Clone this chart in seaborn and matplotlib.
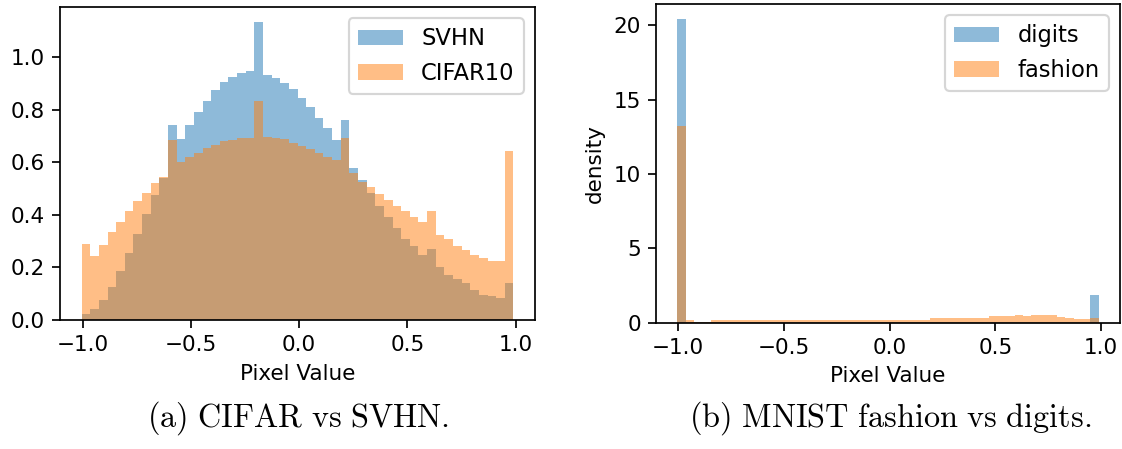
import numpy as np
import pandas as pd
import seaborn as sns
import matplotlib.pyplot as plt

# =============================================================================
# Data (bin densities, 50 bins over the pixel range)
# =============================================================================

n_bins = 50
pixel_range = (-1.005, 0.99)
bin_edges = np.linspace(pixel_range[0], pixel_range[1], n_bins + 1)
bin_centers = (bin_edges[:-1] + bin_edges[1:]) / 2

svhn_density = [
    0.023, 0.040, 0.076, 0.127, 0.188, 0.253, 0.328, 0.402, 0.475, 0.540,
    0.741, 0.687, 0.741, 0.790, 0.834, 0.875, 0.907, 0.925, 0.939, 0.946,
    1.134, 0.932, 0.919, 0.900, 0.877, 0.845, 0.809, 0.767, 0.731, 0.684,
    0.760, 0.580, 0.532, 0.482, 0.433, 0.390, 0.349, 0.307, 0.281, 0.247,
    0.269, 0.203, 0.171, 0.155, 0.139, 0.114, 0.095, 0.091, 0.082, 0.139,
]

cifar_density = [
    0.290, 0.243, 0.285, 0.336, 0.373, 0.414, 0.451, 0.482, 0.520, 0.545,
    0.684, 0.600, 0.620, 0.636, 0.655, 0.667, 0.680, 0.684, 0.692, 0.692,
    0.833, 0.698, 0.692, 0.687, 0.674, 0.663, 0.649, 0.634, 0.619, 0.608,
    0.693, 0.558, 0.526, 0.507, 0.479, 0.456, 0.433, 0.414, 0.390, 0.374,
    0.416, 0.323, 0.307, 0.281, 0.266, 0.247, 0.237, 0.224, 0.224, 0.643,
]

digits_density = [
    20.40, 0.06, 0.06, 0.06, 0.05, 0.05, 0.05, 0.05, 0.05, 0.05,
    0.05, 0.05, 0.05, 0.05, 0.05, 0.05, 0.05, 0.05, 0.05, 0.05,
    0.05, 0.05, 0.05, 0.05, 0.05, 0.05, 0.05, 0.05, 0.05, 0.05,
    0.05, 0.05, 0.05, 0.05, 0.05, 0.05, 0.05, 0.05, 0.05, 0.05,
    0.05, 0.05, 0.05, 0.05, 0.05, 0.05, 0.05, 0.06, 0.06, 1.88,
]

fashion_density = [
    13.24, 0.20, 0.03, 0.03, 0.18, 0.18, 0.18, 0.18, 0.18, 0.18,
    0.18, 0.18, 0.18, 0.18, 0.18, 0.18, 0.18, 0.18, 0.18, 0.18,
    0.18, 0.18, 0.18, 0.18, 0.18, 0.18, 0.18, 0.18, 0.18, 0.18,
    0.32, 0.32, 0.32, 0.32, 0.32, 0.32, 0.32, 0.42, 0.42, 0.42,
    0.52, 0.45, 0.52, 0.52, 0.52, 0.40, 0.30, 0.22, 0.22, 0.30,
]

# =============================================================================
# Figure
# =============================================================================

plt.rcParams["mathtext.fontset"] = "cm"
plt.rcParams["legend.fontsize"] = 10.5

dpi = 155
fig = plt.figure(figsize=(1122 / dpi, 449 / dpi), dpi=dpi)

ax_a = fig.add_axes([60 / 1122, 1 - 320 / 449, 475 / 1122, 313 / 449])
ax_b = fig.add_axes([656 / 1122, 1 - 322.7 / 449, 464 / 1122, 318.7 / 449])


def draw_pair(ax, first, second, labels):
    for values, color, label in [(first, "C0", labels[0]), (second, "C1", labels[1])]:
        df = pd.DataFrame({"pixel": bin_centers, "density": values})
        sns.histplot(
            data=df,
            x="pixel",
            weights="density",
            bins=n_bins,
            binrange=pixel_range,
            stat="count",
            color=color,
            alpha=0.5,
            linewidth=0,
            label=label,
            ax=ax
        )

    ax.set_xticks([-1.0, -0.5, 0.0, 0.5, 1.0])
    ax.set_xlabel("Pixel Value")
    ax.legend(loc="upper right")


draw_pair(ax_a, svhn_density, cifar_density, ["SVHN", "CIFAR10"])
ax_a.set_ylabel("")

draw_pair(ax_b, digits_density, fashion_density, ["digits", "fashion"])
ax_b.set_ylabel("density")
ax_b.set_yticks([0, 5, 10, 15, 20])

fig.text(298 / 1122, 1 - 418 / 449, r"$\mathrm{(a)\ CIFAR\ vs\ SVHN.}$",
         ha="center", va="center", fontsize=15)
fig.text(890 / 1122, 1 - 418 / 449, r"$\mathrm{(b)\ MNIST\ fashion\ vs\ digits.}$",
         ha="center", va="center", fontsize=15)

fig.savefig("out.png", dpi=dpi)
